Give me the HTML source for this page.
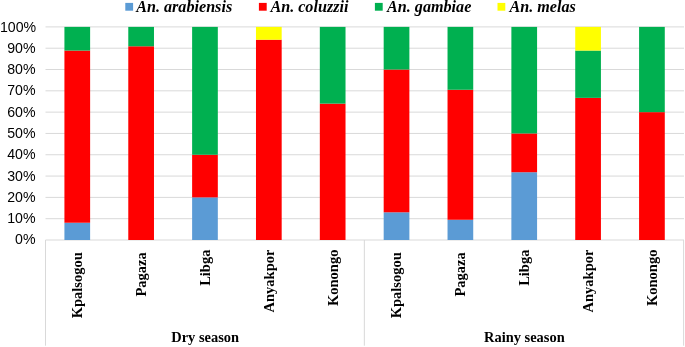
<!DOCTYPE html>
<html><head><meta charset="utf-8"><style>html,body{margin:0;padding:0;background:#fff;overflow:hidden}svg{display:block;position:absolute;left:0;top:0;will-change:transform}</style></head><body>
<svg width="685" height="347" viewBox="0 0 685 347">
<rect width="685" height="347" fill="#fff"/>
<line x1="45.5" x2="684.0" y1="240.00" y2="240.00" stroke="#D9D9D9" stroke-width="1"/>
<line x1="45.5" x2="684.0" y1="218.69" y2="218.69" stroke="#D9D9D9" stroke-width="1"/>
<line x1="45.5" x2="684.0" y1="197.38" y2="197.38" stroke="#D9D9D9" stroke-width="1"/>
<line x1="45.5" x2="684.0" y1="176.07" y2="176.07" stroke="#D9D9D9" stroke-width="1"/>
<line x1="45.5" x2="684.0" y1="154.76" y2="154.76" stroke="#D9D9D9" stroke-width="1"/>
<line x1="45.5" x2="684.0" y1="133.45" y2="133.45" stroke="#D9D9D9" stroke-width="1"/>
<line x1="45.5" x2="684.0" y1="112.14" y2="112.14" stroke="#D9D9D9" stroke-width="1"/>
<line x1="45.5" x2="684.0" y1="90.83" y2="90.83" stroke="#D9D9D9" stroke-width="1"/>
<line x1="45.5" x2="684.0" y1="69.52" y2="69.52" stroke="#D9D9D9" stroke-width="1"/>
<line x1="45.5" x2="684.0" y1="48.21" y2="48.21" stroke="#D9D9D9" stroke-width="1"/>
<line x1="45.5" x2="684.0" y1="26.90" y2="26.90" stroke="#D9D9D9" stroke-width="1"/>
<text transform="translate(35.5,244.10) scale(0.965,1)" x="0" y="0" text-anchor="end" font-family="Liberation Sans, sans-serif" font-size="14.67" fill="#000">0%</text>
<text transform="translate(35.5,223.29) scale(0.965,1)" x="0" y="0" text-anchor="end" font-family="Liberation Sans, sans-serif" font-size="14.67" fill="#000">10%</text>
<text transform="translate(35.5,201.98) scale(0.965,1)" x="0" y="0" text-anchor="end" font-family="Liberation Sans, sans-serif" font-size="14.67" fill="#000">20%</text>
<text transform="translate(35.5,180.67) scale(0.965,1)" x="0" y="0" text-anchor="end" font-family="Liberation Sans, sans-serif" font-size="14.67" fill="#000">30%</text>
<text transform="translate(35.5,159.36) scale(0.965,1)" x="0" y="0" text-anchor="end" font-family="Liberation Sans, sans-serif" font-size="14.67" fill="#000">40%</text>
<text transform="translate(35.5,138.05) scale(0.965,1)" x="0" y="0" text-anchor="end" font-family="Liberation Sans, sans-serif" font-size="14.67" fill="#000">50%</text>
<text transform="translate(35.5,116.74) scale(0.965,1)" x="0" y="0" text-anchor="end" font-family="Liberation Sans, sans-serif" font-size="14.67" fill="#000">60%</text>
<text transform="translate(35.5,95.43) scale(0.965,1)" x="0" y="0" text-anchor="end" font-family="Liberation Sans, sans-serif" font-size="14.67" fill="#000">70%</text>
<text transform="translate(35.5,74.12) scale(0.965,1)" x="0" y="0" text-anchor="end" font-family="Liberation Sans, sans-serif" font-size="14.67" fill="#000">80%</text>
<text transform="translate(35.5,52.81) scale(0.965,1)" x="0" y="0" text-anchor="end" font-family="Liberation Sans, sans-serif" font-size="14.67" fill="#000">90%</text>
<text transform="translate(36.2,31.50) scale(0.965,1)" x="0" y="0" text-anchor="end" font-family="Liberation Sans, sans-serif" font-size="14.67" fill="#000">100%</text>
<rect x="64.42" y="222.74" width="25.7" height="17.26" fill="#5B9BD5"/>
<rect x="64.42" y="50.55" width="25.7" height="172.18" fill="#FF0000"/>
<rect x="64.42" y="26.90" width="25.7" height="23.65" fill="#00B050"/>
<rect x="128.28" y="46.29" width="25.7" height="193.71" fill="#FF0000"/>
<rect x="128.28" y="26.90" width="25.7" height="19.39" fill="#00B050"/>
<rect x="192.12" y="197.38" width="25.7" height="42.62" fill="#5B9BD5"/>
<rect x="192.12" y="154.76" width="25.7" height="42.62" fill="#FF0000"/>
<rect x="192.12" y="26.90" width="25.7" height="127.86" fill="#00B050"/>
<rect x="255.98" y="39.69" width="25.7" height="200.31" fill="#FF0000"/>
<rect x="255.98" y="26.90" width="25.7" height="12.79" fill="#FFFF00"/>
<rect x="319.82" y="103.62" width="25.7" height="136.38" fill="#FF0000"/>
<rect x="319.82" y="26.90" width="25.7" height="76.72" fill="#00B050"/>
<rect x="383.68" y="212.30" width="25.7" height="27.70" fill="#5B9BD5"/>
<rect x="383.68" y="69.52" width="25.7" height="142.78" fill="#FF0000"/>
<rect x="383.68" y="26.90" width="25.7" height="42.62" fill="#00B050"/>
<rect x="447.53" y="219.76" width="25.7" height="20.24" fill="#5B9BD5"/>
<rect x="447.53" y="89.76" width="25.7" height="129.99" fill="#FF0000"/>
<rect x="447.53" y="26.90" width="25.7" height="62.86" fill="#00B050"/>
<rect x="511.38" y="172.23" width="25.7" height="67.77" fill="#5B9BD5"/>
<rect x="511.38" y="133.45" width="25.7" height="38.78" fill="#FF0000"/>
<rect x="511.38" y="26.90" width="25.7" height="106.55" fill="#00B050"/>
<rect x="575.23" y="97.86" width="25.7" height="142.14" fill="#FF0000"/>
<rect x="575.23" y="50.55" width="25.7" height="47.31" fill="#00B050"/>
<rect x="575.23" y="26.90" width="25.7" height="23.65" fill="#FFFF00"/>
<rect x="639.08" y="112.14" width="25.7" height="127.86" fill="#FF0000"/>
<rect x="639.08" y="26.90" width="25.7" height="85.24" fill="#00B050"/>
<line x1="45.50" x2="45.50" y1="240.0" y2="345.7" stroke="#D9D9D9" stroke-width="1"/>
<line x1="364.35" x2="364.35" y1="240.0" y2="345.7" stroke="#D9D9D9" stroke-width="1"/>
<line x1="683.60" x2="683.60" y1="240.0" y2="345.7" stroke="#D9D9D9" stroke-width="1"/>
<text transform="translate(82.22,252.2) rotate(-90)" text-anchor="end" x="0" y="0" font-family="Liberation Serif, serif" font-weight="bold" font-size="14.5" fill="#000">Kpalsogou</text>
<text transform="translate(146.08,252.2) rotate(-90)" text-anchor="end" x="0" y="0" font-family="Liberation Serif, serif" font-weight="bold" font-size="14.5" fill="#000">Pagaza</text>
<text transform="translate(209.93,249.6) rotate(-90)" text-anchor="end" x="0" y="0" font-family="Liberation Serif, serif" font-weight="bold" font-size="14.5" fill="#000">Libga</text>
<text transform="translate(273.78,249.6) rotate(-90)" text-anchor="end" x="0" y="0" font-family="Liberation Serif, serif" font-weight="bold" font-size="14.5" fill="#000">Anyakpor</text>
<text transform="translate(337.62,249.6) rotate(-90)" text-anchor="end" x="0" y="0" font-family="Liberation Serif, serif" font-weight="bold" font-size="14.5" fill="#000">Konongo</text>
<text transform="translate(401.48,252.2) rotate(-90)" text-anchor="end" x="0" y="0" font-family="Liberation Serif, serif" font-weight="bold" font-size="14.5" fill="#000">Kpalsogou</text>
<text transform="translate(465.33,252.2) rotate(-90)" text-anchor="end" x="0" y="0" font-family="Liberation Serif, serif" font-weight="bold" font-size="14.5" fill="#000">Pagaza</text>
<text transform="translate(529.17,249.6) rotate(-90)" text-anchor="end" x="0" y="0" font-family="Liberation Serif, serif" font-weight="bold" font-size="14.5" fill="#000">Libga</text>
<text transform="translate(593.02,249.6) rotate(-90)" text-anchor="end" x="0" y="0" font-family="Liberation Serif, serif" font-weight="bold" font-size="14.5" fill="#000">Anyakpor</text>
<text transform="translate(656.88,249.6) rotate(-90)" text-anchor="end" x="0" y="0" font-family="Liberation Serif, serif" font-weight="bold" font-size="14.5" fill="#000">Konongo</text>
<text x="205.12" y="341.7" text-anchor="middle" font-family="Liberation Serif, serif" font-weight="bold" font-size="14.45">Dry season</text>
<text x="524.38" y="341.7" text-anchor="middle" font-family="Liberation Serif, serif" font-weight="bold" font-size="14.45">Rainy season</text>
<rect x="125.3" y="2.9" width="7.8" height="7.8" fill="#5B9BD5"/>
<text x="136.2" y="12.2" font-family="Liberation Serif, serif" font-weight="bold" font-style="italic" font-size="16.15">An. arabiensis</text>
<rect x="258.9" y="2.9" width="7.8" height="7.8" fill="#FF0000"/>
<text x="270.4" y="12.2" font-family="Liberation Serif, serif" font-weight="bold" font-style="italic" font-size="16.15">An. coluzzii</text>
<rect x="374.9" y="2.9" width="7.8" height="7.8" fill="#00B050"/>
<text x="387" y="12.2" font-family="Liberation Serif, serif" font-weight="bold" font-style="italic" font-size="16.15">An. gambiae</text>
<rect x="497.5" y="2.9" width="7.8" height="7.8" fill="#FFFF00"/>
<text x="509.4" y="12.2" font-family="Liberation Serif, serif" font-weight="bold" font-style="italic" font-size="16.15">An. melas</text>
</svg>
</body></html>
